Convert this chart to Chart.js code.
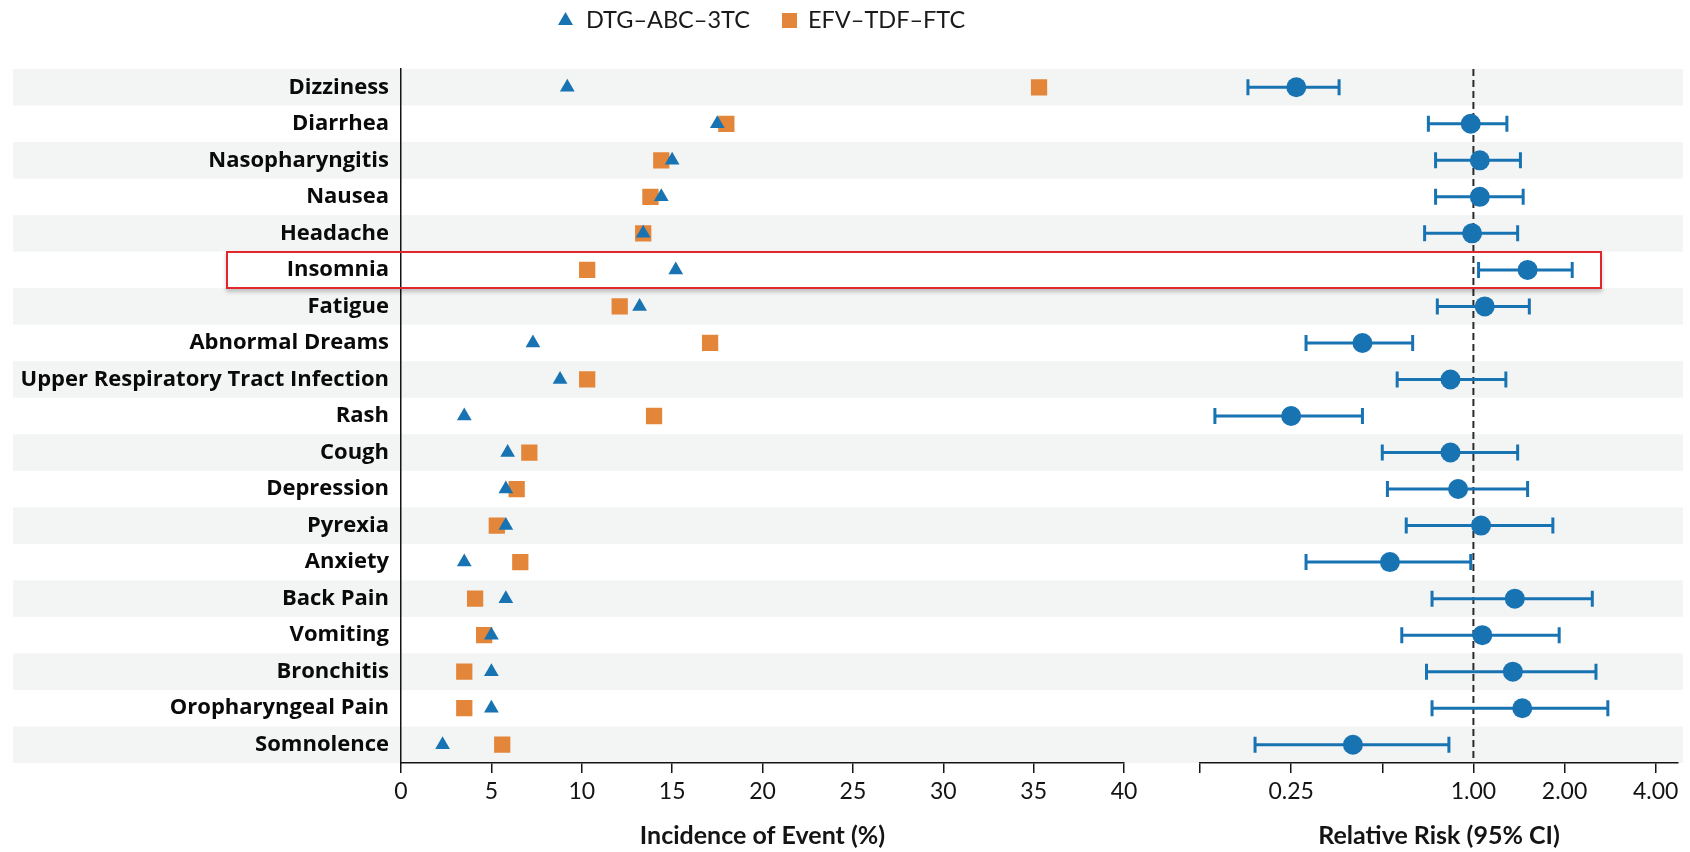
<!DOCTYPE html>
<html>
<head>
<meta charset="utf-8">
<script src="https://cdn.jsdelivr.net/npm/chart.js@4.4.1/dist/chart.umd.min.js"></script>
<style>
    html, body { margin: 0; padding: 0; background: #ffffff; }
    #wrap { position: relative; width: 1690px; height: 852px; overflow: hidden; font-family: Lato, 'Open Sans', sans-serif; color: #1a1a1a; }
    #incChart { position: absolute; left: 0; top: 0; }
    #rrChart { position: absolute; left: 1160px; top: 0; }
    .lg-text { position: absolute; top: 5px; font-size: 23.5px; line-height: 28px; white-space: nowrap; }
    .lg-tri { position: absolute; left: 558px; top: 12px; width: 15px; height: 13px; background: #1873b3; clip-path: polygon(50% 0, 100% 100%, 0 100%); }
    .lg-sq { position: absolute; left: 782px; top: 13px; width: 15px; height: 15px; background: #e4863a; }
    #highlight { position: absolute; border: 2px solid #e3262b; box-sizing: border-box; box-shadow: 0 3px 4px rgba(0,0,0,0.22); pointer-events: none; }
</style>
</head>
<body>
<div id="wrap">
    <canvas id="incChart" width="1160" height="852"></canvas>
    <canvas id="rrChart" width="530" height="852"></canvas>
    <div class="lg-tri"></div>
    <div class="lg-text" style="left:586px">DTG–ABC–3TC</div>
    <div class="lg-sq"></div>
    <div class="lg-text" style="left:808px">EFV–TDF–FTC</div>
    <div id="highlight"></div>
</div>
<script>
// Datos
const categories = ['Dizziness', 'Diarrhea', 'Nasopharyngitis', 'Nausea', 'Headache', 'Insomnia', 'Fatigue',
    'Abnormal Dreams', 'Upper Respiratory Tract Infection', 'Rash', 'Cough', 'Depression', 'Pyrexia',
    'Anxiety', 'Back Pain', 'Vomiting', 'Bronchitis', 'Oropharyngeal Pain', 'Somnolence'];

// Incidencia (%)
const dtgIncidence = [9.2, 17.5, 15.0, 14.4, 13.4, 15.2, 13.2, 7.3, 8.8, 3.5, 5.9, 5.8, 5.8, 3.5, 5.8, 5.0, 5.0, 5.0, 2.3];
const efvIncidence = [35.3, 18.0, 14.4, 13.8, 13.4, 10.3, 12.1, 17.1, 10.3, 14.0, 7.1, 6.4, 5.3, 6.6, 4.1, 4.6, 3.5, 3.5, 5.6];

// Riesgo relativo (IC 95%)
const rrPoint = [0.26, 0.98, 1.05, 1.05, 0.99, 1.51, 1.09, 0.43, 0.84, 0.25, 0.84, 0.89, 1.06, 0.53, 1.37, 1.07, 1.35, 1.45, 0.40];
const rrLow   = [0.18, 0.71, 0.75, 0.75, 0.69, 1.04, 0.76, 0.28, 0.56, 0.14, 0.50, 0.52, 0.60, 0.28, 0.73, 0.58, 0.70, 0.73, 0.19];
const rrHigh  = [0.36, 1.29, 1.43, 1.46, 1.40, 2.12, 1.53, 0.63, 1.28, 0.43, 1.40, 1.51, 1.83, 0.98, 2.47, 1.92, 2.54, 2.78, 0.83];

// Ticks
const incTicks = [0, 5, 10, 15, 20, 25, 30, 35, 40];
const rrTicks = [0.125, 0.25, 0.5, 1, 2, 4];
const rrTickLabels = ['', '0.25', '', '1.00', '2.00', '4.00'];

const BLUE = '#1873b3';
const ORANGE = '#e4863a';
const INK = '#141414';
const FONT = "Lato, 'Open Sans', sans-serif";
const LABEL_FONT = "'Open Sans', Lato, sans-serif";

// Franjas alternas de fondo
const rowBands = {
    id: 'rowBands',
    beforeDraw(chart, args, opts) {
        const { ctx, scales: { y } } = chart;
        const step = Math.abs(y.getPixelForValue(1) - y.getPixelForValue(0));
        ctx.save();
        ctx.fillStyle = '#f3f5f4';
        categories.forEach((c, i) => {
            if (i % 2 === 0) {
                ctx.fillRect(opts.left, y.getPixelForValue(i) - step / 2, opts.right - opts.left, step);
            }
        });
        ctx.restore();
    }
};

// Linea de referencia e intervalos de confianza
const ciBars = {
    id: 'ciBars',
    beforeDatasetsDraw(chart) {
        const { ctx, chartArea, scales: { x, y } } = chart;
        ctx.save();
        const x1 = x.getPixelForValue(1);
        ctx.strokeStyle = '#2b2b2b';
        ctx.lineWidth = 2;
        ctx.setLineDash([7, 4]);
        ctx.beginPath();
        ctx.moveTo(x1, chartArea.top);
        ctx.lineTo(x1, chartArea.bottom);
        ctx.stroke();
        ctx.setLineDash([]);

        ctx.strokeStyle = BLUE;
        ctx.lineWidth = 3;
        categories.forEach((c, i) => {
            const yy = y.getPixelForValue(i);
            const xl = x.getPixelForValue(rrLow[i]);
            const xh = x.getPixelForValue(rrHigh[i]);
            ctx.beginPath();
            ctx.moveTo(xl, yy); ctx.lineTo(xh, yy);
            ctx.moveTo(xl, yy - 8); ctx.lineTo(xl, yy + 8);
            ctx.moveTo(xh, yy - 8); ctx.lineTo(xh, yy + 8);
            ctx.stroke();
        });
        ctx.restore();
    }
};

const axisX = (extra) => Object.assign({
    position: 'bottom',
    grid: { drawOnChartArea: false, drawTicks: true, tickLength: 10, color: INK, lineWidth: 1.5 },
    border: { display: true, color: INK, width: 1.5 },
    afterFit: (s) => { s.height = 89; }
}, extra);

// Grafico izquierdo: incidencia
const incChart = new Chart(document.getElementById('incChart'), {
    type: 'scatter',
    data: {
        datasets: [{
            label: 'DTG–ABC–3TC',
            data: categories.map((c, i) => ({ x: dtgIncidence[i], y: c })),
            pointStyle: 'triangle',
            pointRadius: 8.5,
            pointBackgroundColor: BLUE,
            backgroundColor: BLUE,
            pointBorderWidth: 0
        }, {
            label: 'EFV–TDF–FTC',
            data: categories.map((c, i) => ({ x: efvIncidence[i], y: c })),
            pointStyle: 'rect',
            pointRadius: 11.5,
            pointBackgroundColor: ORANGE,
            backgroundColor: ORANGE,
            pointBorderWidth: 0
        }]
    },
    options: {
        responsive: false,
        animation: false,
        events: [],
        layout: { padding: { top: 69, left: 0, right: 36, bottom: 0 } },
        plugins: {
            legend: { display: false },
            tooltip: { enabled: false },
            rowBands: { left: 13, right: 1160 }
        },
        scales: {
            x: axisX({
                type: 'linear',
                min: 0,
                max: 40,
                afterBuildTicks: (s) => { s.ticks = incTicks.map(v => ({ value: v })); },
                ticks: { font: { family: FONT, size: 23 }, color: INK, padding: 5, maxRotation: 0, autoSkip: false },
                title: { display: true, text: 'Incidence of Event (%)', color: INK,
                    font: { family: FONT, size: 25, weight: 'bold' }, padding: { top: 0, bottom: 1 } }
            }),
            y: {
                type: 'category',
                labels: categories,
                offset: true,
                position: 'left',
                grid: { display: false, drawTicks: false },
                border: { display: true, color: INK, width: 1.5 },
                ticks: { font: { family: LABEL_FONT, size: 22, weight: 'bold' }, color: '#0a0a0a', padding: 12, autoSkip: false },
                afterFit: (s) => { s.width = 401; }
            }
        }
    },
    plugins: [rowBands]
});

// Grafico derecho: riesgo relativo
new Chart(document.getElementById('rrChart'), {
    type: 'scatter',
    data: {
        datasets: [{
            label: 'Relative Risk',
            data: categories.map((c, i) => ({ x: rrPoint[i], y: c })),
            pointStyle: 'circle',
            pointRadius: 10,
            pointBackgroundColor: BLUE,
            backgroundColor: BLUE,
            pointBorderWidth: 0
        }]
    },
    options: {
        responsive: false,
        animation: false,
        events: [],
        layout: { padding: { top: 69, left: 40, right: 12, bottom: 0 } },
        plugins: {
            legend: { display: false },
            tooltip: { enabled: false },
            rowBands: { left: 0, right: 523 }
        },
        scales: {
            x: axisX({
                type: 'logarithmic',
                min: 0.125,
                max: 4.74,
                afterBuildTicks: (s) => { s.ticks = rrTicks.map(v => ({ value: v })); },
                ticks: { font: { family: FONT, size: 23 }, color: INK, padding: 5, maxRotation: 0, autoSkip: false,
                    callback: (v, i) => rrTickLabels[i] },
                title: { display: true, text: 'Relative Risk (95% CI)', color: INK,
                    font: { family: FONT, size: 25, weight: 'bold' }, padding: { top: 0, bottom: 1 } }
            }),
            y: { type: 'category', labels: categories, offset: true, display: false }
        }
    },
    plugins: [rowBands, ciBars]
});

// Recuadro rojo sobre la fila Insomnia
const yS = incChart.scales.y;
const rowH = Math.abs(yS.getPixelForValue(1) - yS.getPixelForValue(0));
const yc = yS.getPixelForValue(categories.indexOf('Insomnia'));
const box = document.getElementById('highlight');
box.style.left = '226px';
box.style.width = (1602 - 226) + 'px';
box.style.top = (yc - rowH / 2 - 1) + 'px';
box.style.height = (rowH + 2) + 'px';
</script>
</body>
</html>
